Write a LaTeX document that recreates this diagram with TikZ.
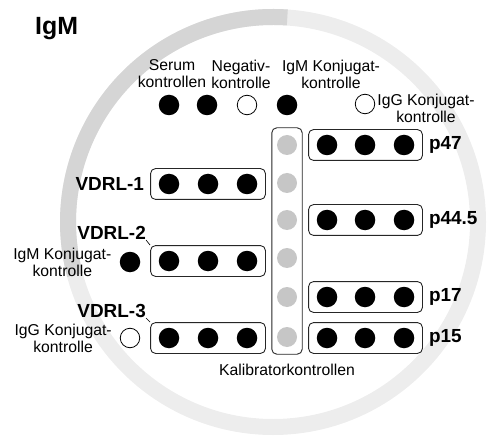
\documentclass[tikz,border=0pt]{standalone}
\usepackage{fontspec}
\setmainfont{Liberation Sans}
\usepackage{tikz}
\usetikzlibrary{fit}
\usetikzlibrary{positioning, shapes, arrows.meta, calc}

\definecolor{ringlight}{HTML}{EDEDED}
\definecolor{ringdark}{HTML}{D5D5D5}
\definecolor{calgray}{HTML}{C6C6C6}

\begin{document}
\begin{tikzpicture}[x=1bp, y=-1bp,
    well/.style={circle, fill=black, minimum size=20.5bp, inner sep=0pt},
    emptywell/.style={circle, draw=black, fill=white, line width=0.8bp, minimum size=19.5bp, inner sep=0pt},
    calwell/.style={circle, fill=calgray, minimum size=20bp, inner sep=0pt},
    strip/.style={draw=black!85, rounded corners=5bp, line width=0.9bp, inner xsep=8bp, inner ysep=5bp},
    lbl/.style={font=\fontsize{15.8}{17}\selectfont, align=center, inner sep=0pt},
    blbl/.style={font=\fontsize{19}{21}\selectfont\bfseries, inner sep=0pt}]
    \useasboundingbox (0,0) rectangle (499,443);

    % Ring
    \draw[ringlight, line width=16bp] (273,222) circle (205);
    \draw[ringdark, line width=16bp] ($(273,222)+(-86:205)$) arc (-86:-195:205);

    % Title
    \node[font=\fontsize{25}{30}\selectfont\bfseries, anchor=base west, inner sep=0pt] (title) at (35,35) {IgM};

    % Top row
    \node[well] (serum1) at (169,105) {};
    \node[well] (serum2) at (207,105) {};
    \node[emptywell] (neg) at (247,105) {};
    \node[well] (igmtop) at (287,105) {};
    \node[emptywell] (iggtop) at (365,104) {};
    \node[lbl] (serumlbl) at (172,74) {Serum\\kontrollen};
    \node[lbl] (neglbl) at (241,74) {Negativ-\\kontrolle};
    \node[lbl] (igmtoplbl) at (331,74) {IgM Konjugat-\\kontrolle};
    \node[lbl] (iggtoplbl) at (426,108) {IgG Konjugat-\\kontrolle};

    % Calibrators
    \foreach \y [count=\i] in {145,183,220,258,297,337}
    \node[calwell] (cal\i) at (287,\y) {};
    \node[strip, inner xsep=5bp, inner ysep=7bp, fit=(cal1)(cal6)] (calbox) {};
    \node[lbl, below=9bp of calbox] (callbl) {Kalibratorkontrollen};

    % Right strips
    \foreach \name/\y/\txt in {p47/145/p47, p445/220/p44.5, p17/297/p17, p15/338/p15} {
      \foreach \j/\x in {1/327,2/365,3/404}
      \node[well] (\name-\j) at (\x,\y) {};
      \node[strip, fit=(\name-1)(\name-3)] (\name) {};
      \node[blbl, right=6bp of \name] (\name lbl) {\txt};
    }

    % Left strips
    \foreach \name/\y in {vdrl1/184, vdrl2/261, vdrl3/338} {
      \foreach \j/\x in {1/169,2/208,3/247}
      \node[well] (\name-\j) at (\x,\y) {};
      \node[strip, fit=(\name-1)(\name-3)] (\name) {};
    }
    \node[blbl, left=6bp of vdrl1] (vdrl1lbl) {VDRL-1};
    \node[blbl, anchor=south east] (vdrl2lbl) at (146,240) {VDRL-2};
    \node[blbl, anchor=south east] (vdrl3lbl) at (146,318) {VDRL-3};
    \draw[line width=0.6bp] (vdrl2lbl.south east) -- (vdrl2.north west);
    \draw[line width=0.6bp] (vdrl3lbl.south east) -- (vdrl3.north west);

    % Left controls
    \node[well] (igmleft) at (130,262) {};
    \node[emptywell] (iggleft) at (130,338) {};
    \node[lbl, left=8bp of igmleft] (igmleftlbl) {IgM Konjugat-\\kontrolle};
    \node[lbl, left=8bp of iggleft] (iggleftlbl) {IgG Konjugat-\\kontrolle};
\end{tikzpicture}
\end{document}
